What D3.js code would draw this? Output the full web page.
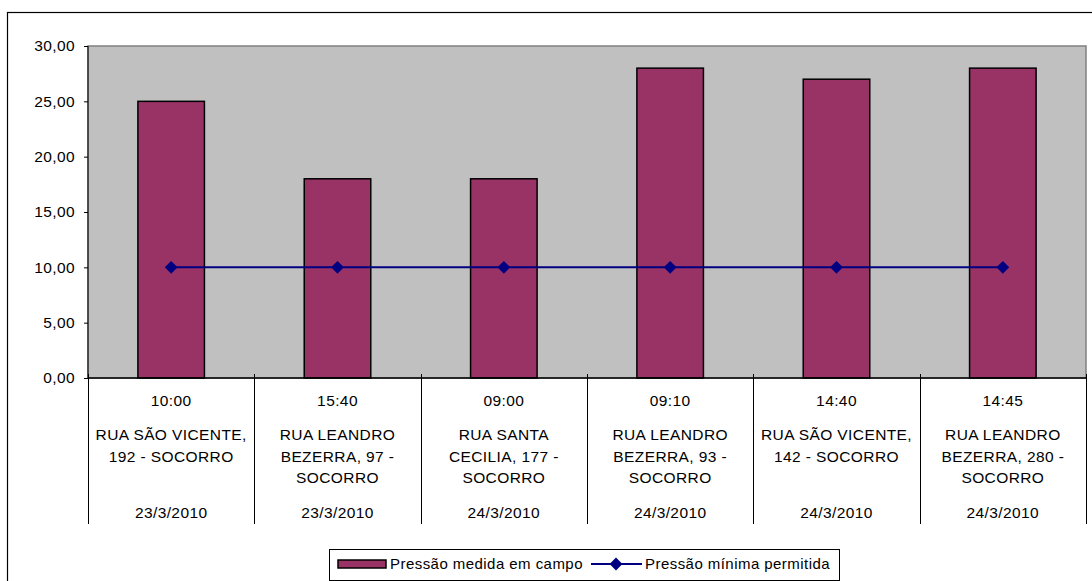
<!DOCTYPE html>
<html lang="pt">
<head>
<meta charset="utf-8">
<title>Pressão medida em campo</title>
<script src="https://cdn.jsdelivr.net/npm/d3@7"></script>
<style>
  body { margin: 0; background: #fff; }
  text { font-family: "Liberation Sans", Arial, sans-serif; fill: #000; }
  .lbl { font-size: 15.5px; letter-spacing: 0.4px; }
  .leg { font-size: 15px; letter-spacing: 0.45px; }
</style>
</head>
<body>
<script>
// data
var times = ["10:00", "15:40", "09:00", "09:10", "14:40", "14:45"];
var addresses = [
  ["RUA SÃO VICENTE,", "192 - SOCORRO"],
  ["RUA LEANDRO", "BEZERRA, 97 -", "SOCORRO"],
  ["RUA SANTA", "CECILIA, 177 -", "SOCORRO"],
  ["RUA LEANDRO", "BEZERRA, 93 -", "SOCORRO"],
  ["RUA SÃO VICENTE,", "142 - SOCORRO"],
  ["RUA LEANDRO", "BEZERRA, 280 -", "SOCORRO"]
];
var dates = ["23/3/2010", "23/3/2010", "24/3/2010", "24/3/2010", "24/3/2010", "24/3/2010"];
var measured = [25, 18, 18, 28, 27, 28];
var minimum = [10, 10, 10, 10, 10, 10];
var yTicks = [0, 5, 10, 15, 20, 25, 30];
var seriesNames = ["Pressão medida em campo", "Pressão mínima permitida"];

var w = 1092, h = 581;
var pLeft = 88, pRight = 1086, pTop = 46, pBottom = 378;
var barColor = "#993366", lineColor = "#000080";

var svg = d3.select("body").append("svg")
  .attr("width", w).attr("height", h);

// outer chart frame (cut off at right and bottom)
svg.append("rect")
  .attr("x", 7.5).attr("y", 12.5)
  .attr("width", 1200).attr("height", 700)
  .attr("fill", "none").attr("stroke", "#000").attr("stroke-width", 1.2);

var idx = d3.range(times.length);
var x = d3.scaleBand().domain(idx).range([pLeft, pRight]).paddingInner(0).paddingOuter(0);
var y = d3.scaleLinear().domain([0, 30]).range([pBottom, pTop]);

// plot area
svg.append("rect")
  .attr("x", pLeft).attr("y", pTop)
  .attr("width", pRight - pLeft).attr("height", pBottom - pTop)
  .attr("fill", "#c0c0c0").attr("stroke", "#808080").attr("stroke-width", 1.5);

// bars
var bw = x.bandwidth() * 0.4;
svg.selectAll(".bar").data(measured).enter().append("rect")
  .attr("class", "bar")
  .attr("x", function(d, i) { return x(i) + (x.bandwidth() - bw) / 2; })
  .attr("y", function(d) { return y(d); })
  .attr("width", bw)
  .attr("height", function(d) { return y(0) - y(d); })
  .attr("fill", barColor).attr("stroke", "#000").attr("stroke-width", 1.5);

// y axis
var yAxis = d3.axisLeft(y).tickValues(yTicks).tickSize(4).tickPadding(9)
  .tickFormat(function(d) { return d3.format(".2f")(d).replace(".", ","); });
var gy = svg.append("g").attr("transform", "translate(" + pLeft + ",0)").call(yAxis);
gy.select(".domain").attr("stroke", "#000").attr("d", "M0," + pTop + "V" + pBottom);
gy.selectAll(".tick line").attr("stroke", "#000");
gy.selectAll("text").attr("class", "lbl").attr("font-size", null).attr("font-family", null);
gy.attr("font-size", null).attr("font-family", null);

// x axis line
svg.append("line")
  .attr("x1", pLeft).attr("x2", pRight)
  .attr("y1", pBottom).attr("y2", pBottom)
  .attr("stroke", "#000").attr("stroke-width", 1.5);

// category separators
var seps = idx.map(function(i) { return x(i); }).concat([pRight]);
svg.selectAll(".sep").data(seps).enter().append("line")
  .attr("x1", function(d) { return Math.round(d) + 0.5; })
  .attr("x2", function(d) { return Math.round(d) + 0.5; })
  .attr("y1", pBottom - 4).attr("y2", 524)
  .attr("stroke", "#000").attr("stroke-width", 1);

// category labels
var cats = svg.selectAll(".cat").data(idx).enter().append("g")
  .attr("transform", function(i) { return "translate(" + (x(i) + x.bandwidth() / 2) + ",0)"; });
cats.append("text").attr("class", "lbl").attr("text-anchor", "middle")
  .attr("y", 406).text(function(i) { return times[i]; });
cats.each(function(i) {
  var g = d3.select(this);
  addresses[i].forEach(function(line, k) {
    g.append("text").attr("class", "lbl").attr("text-anchor", "middle")
      .attr("y", 440 + k * 21.5).text(line);
  });
});
cats.append("text").attr("class", "lbl").attr("text-anchor", "middle")
  .attr("y", 518).text(function(i) { return dates[i]; });

// minimum line
var line = d3.line()
  .x(function(d, i) { return x(i) + x.bandwidth() / 2; })
  .y(function(d) { return y(d); });
svg.append("path").datum(minimum)
  .attr("d", line).attr("fill", "none")
  .attr("stroke", lineColor).attr("stroke-width", 2);
var diamond = d3.symbol().type(d3.symbolDiamond2).size(105);
svg.selectAll(".mk").data(minimum).enter().append("path")
  .attr("d", diamond)
  .attr("transform", function(d, i) { return "translate(" + (x(i) + x.bandwidth() / 2) + "," + y(d) + ")"; })
  .attr("fill", lineColor);

// legend
var lg = svg.append("g");
lg.append("rect").attr("x", 329.5).attr("y", 549.5).attr("width", 510).attr("height", 31)
  .attr("fill", "#fff").attr("stroke", "#000").attr("stroke-width", 1);
lg.append("rect").attr("x", 338).attr("y", 560).attr("width", 48).attr("height", 8)
  .attr("fill", barColor).attr("stroke", "#000").attr("stroke-width", 1.5);
lg.append("text").attr("class", "leg").attr("x", 390).attr("y", 569).text(seriesNames[0]);
lg.append("line").attr("x1", 591).attr("x2", 642).attr("y1", 564).attr("y2", 564)
  .attr("stroke", lineColor).attr("stroke-width", 2);
lg.append("path").attr("d", diamond).attr("transform", "translate(616,564)").attr("fill", lineColor);
lg.append("text").attr("class", "leg").attr("x", 645).attr("y", 569).text(seriesNames[1]);
</script>
</body>
</html>
